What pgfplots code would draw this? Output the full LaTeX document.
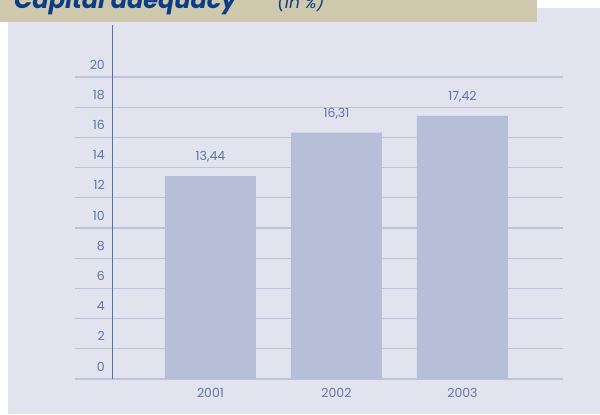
\documentclass[border=0pt]{standalone}
\usepackage{fontspec}
\setmainfont{Poppins}
\usepackage{pgfplots}
\usepackage{pgfplotstable}
\pgfplotsset{compat=1.18}
\definecolor{bgc}{HTML}{E1E3EF}
\definecolor{tanc}{HTML}{CEC9AD}
\definecolor{barc}{HTML}{B6BED8}
\definecolor{gridc}{HTML}{BEC3DA}
\definecolor{axisc}{HTML}{5E6E9E}
\definecolor{txtc}{HTML}{6074A6}
\definecolor{titlec}{HTML}{0B3C85}
\pgfplotstableread{
x y label
1 13.44 13,44
2 16.31 16,31
3 17.42 17,42
}\capdata
\begin{document}
\begin{tikzpicture}[x=1bp,y=1bp]
\useasboundingbox (0,0) rectangle (600,414);
\fill[white] (0,0) rectangle (600,414);
\fill[bgc] (8,0) rectangle (600,406);
\begin{scope}
\clip (0,0) rectangle (600,414);
\fill[tanc] (0,392) rectangle (537,414);
\node[anchor=base west, inner sep=0pt, text=titlec, font=\fontsize{24bp}{28bp}\selectfont\bfseries\itshape] at (14,405) {Capital adequacy};
\node[anchor=base west, inner sep=0pt, text=titlec, font=\fontsize{17bp}{20bp}\selectfont\itshape] at (277,405) {(in \%)};
\end{scope}
\begin{axis}[
  at={(75bp,35bp)}, anchor=south west,
  scale only axis, width=488bp, height=354bp,
  xmin=-0.075, xmax=3.798, ymin=0, ymax=23.44,
  axis line style={draw=none},
  major tick length=0pt,
  ytick={0,2,...,20},
  xtick={1,2,3}, xticklabels={2001,2002,2003},
  ymajorgrids, grid style={gridc, line width=1.2bp},
  /pgf/number format/assume math mode=true,
  tick label style={text=txtc, font=\fontsize{12.5bp}{14bp}\selectfont, inner sep=0pt},
  yticklabel style={anchor=east, xshift=30bp, yshift=12.5bp},
  xticklabel style={anchor=center, yshift=-13.7bp},
  clip=false,
]
\addplot[ybar, bar width=91bp, fill=barc, draw=none,
  point meta=explicit symbolic,
  nodes near coords={\pgfplotspointmeta},
  every node near coord/.style={anchor=center, yshift=19bp, inner sep=0pt, text=txtc, font=\fontsize{12.5bp}{14bp}\selectfont}]
  table[x=x, y=y, meta=label] {\capdata};
\draw[axisc, line width=1bp] (axis cs:0.226,0) -- (axis cs:0.226,23.44);
\end{axis}
\end{tikzpicture}
\end{document}
